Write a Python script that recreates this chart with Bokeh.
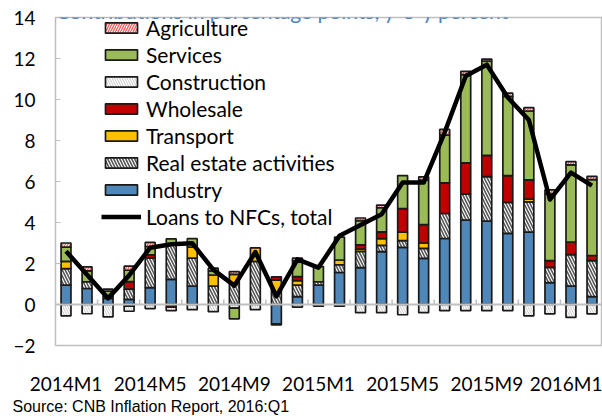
from bokeh.plotting import figure
from bokeh.models import ColumnDataSource, FixedTicker, Span, Label, Legend, LegendItem, Range1d, Title
from bokeh.embed import file_html
from bokeh.resources import INLINE

months = ["2014M1", "2014M2", "2014M3", "2014M4", "2014M5", "2014M6", "2014M7", "2014M8",
          "2014M9", "2014M10", "2014M11", "2014M12", "2015M1", "2015M2", "2015M3", "2015M4",
          "2015M5", "2015M6", "2015M7", "2015M8", "2015M9", "2015M10", "2015M11", "2015M12",
          "2016M1", "2016M2"]
tick_months = ["2014M1", "2014M5", "2014M9", "2015M1", "2015M5", "2015M9", "2016M1"]
y_ticks = [-2, 0, 2, 4, 6, 8, 10, 12, 14]

industry = [0.95, 0.78, 0.3, 0.25, 0.82, 1.23, 0.9, 0.0, 0.0, 0.0, -0.94, 0.38, 0.95,
            1.56, 1.8, 2.58, 2.79, 2.25, 3.22, 4.12, 4.07, 3.47, 3.53, 1.07, 0.9, 0.38]
real_estate = [0.8, 0.33, 0.1, 0.5, 1.44, 1.69, 1.36, 0.9, 1.03, 2.1, 0.62, 0.57, 0.16,
               0.38, 0.79, 0.3, 0.33, 0.49, 1.22, 1.26, 2.17, 1.51, 1.48, 0.74, 1.53, 1.76]
transport = [0.35, 0.0, 0.0, -0.08, 0.0, 0.0, 0.54, 0.54, 0.44, 0.66, 0.57, 0.21, 0.0,
             0.23, 0.11, 0.33, 0.41, 0.26, 0.0, 0.0, 0.0, 0.0, 0.13, 0.0, 0.0, 0.0]
wholesale = [0.0, 0.0, 0.0, 0.37, 0.16, -0.13, 0.0, 0.0, 0.0, 0.0, 0.16, 0.2, 0.0,
             0.0, 0.21, 0.33, 1.15, 0.9, 1.49, 1.53, 1.03, 1.31, 0.94, 0.33, 0.62, 0.25]
construction = [-0.55, -0.45, -0.6, -0.25, -0.2, -0.17, -0.25, -0.35, -0.18, -0.25, -0.06, -0.13, -0.08,
                -0.08, -0.4, -0.4, -0.5, -0.4, -0.3, -0.3, -0.3, -0.3, -0.55, -0.46, -0.63, -0.46]
services = [0.7, 0.53, 0.25, 0.55, 0.41, 0.28, 0.41, 0.2, -0.52, 0.0, 0.0, 0.77, 0.74,
            1.12, 1.18, 1.18, 1.61, 2.17, 2.33, 4.3, 4.6, 3.86, 3.36, 3.25, 3.76, 3.7]
agriculture = [0.2, 0.2, 0.1, 0.2, 0.2, 0.0, 0.0, 0.13, 0.13, 0.0, 0.0, 0.13, 0.0,
               0.0, 0.13, 0.13, 0.0, 0.16, 0.28, 0.16, 0.1, 0.16, 0.16, 0.2, 0.16, 0.16]
loans_total = [2.6, 1.45, 0.3, 1.42, 2.77, 2.94, 2.99, 1.7, 0.92, 2.56, 0.4, 2.2, 1.8,
               3.35, 3.88, 4.4, 5.95, 5.95, 8.4, 11.15, 11.7, 10.1, 9.0, 5.12, 6.43, 5.8]

FONT = "Lato"
TOP, BOTTOM = 17, 71
H = 416
Y_MIN, Y_MAX = -2, 14

p = figure(width=602, height=H, output_backend="svg", toolbar_location=None,
           x_range=Range1d(-0.5, 25.5), y_range=Range1d(Y_MIN, Y_MAX),
           min_border_left=55, min_border_right=0, min_border_top=TOP, min_border_bottom=BOTTOM)
p.background_fill_color = "white"
p.border_fill_color = "white"
p.outline_line_color = "#BFBFBF"
p.outline_line_width = 1.5
p.grid.visible = False

p.xaxis.ticker = FixedTicker(ticks=[months.index(m) for m in tick_months])
p.xaxis.major_label_overrides = {months.index(m): m for m in tick_months}
p.xaxis.axis_line_color = None
p.xaxis.major_tick_line_color = None
p.xaxis.minor_tick_line_color = None
p.xaxis.major_label_standoff = 20
p.xaxis.major_label_text_font = FONT
p.xaxis.major_label_text_font_size = "19px"
p.xaxis.major_label_text_color = "black"

p.yaxis.ticker = FixedTicker(ticks=y_ticks)
p.yaxis.axis_line_color = "#BFBFBF"
p.yaxis.major_tick_line_color = "#BFBFBF"
p.yaxis.major_tick_in = 5
p.yaxis.major_tick_out = 0
p.yaxis.minor_tick_line_color = None
p.yaxis.major_label_standoff = 20
p.yaxis.major_label_text_font = FONT
p.yaxis.major_label_text_font_size = "19px"
p.yaxis.major_label_text_color = "black"

n = len(months)
xs = list(range(n))
styles = [
    ("Industry", industry, dict(fill_color="#4F87B8")),
    ("Real estate activities", real_estate, dict(fill_color="white", hatch_pattern="\\", hatch_color="#555555",
                                                 hatch_scale=6, hatch_weight=1.6)),
    ("Transport", transport, dict(fill_color="#FFC000")),
    ("Wholesale", wholesale, dict(fill_color="#C00000")),
    ("Construction", construction, dict(fill_color="white", hatch_pattern="\\", hatch_color="#C8C8C8",
                                        hatch_scale=5, hatch_weight=1.0)),
    ("Services", services, dict(fill_color="#9BBB59")),
    ("Agriculture", agriculture, dict(fill_color="white", hatch_pattern="/", hatch_color="#F06060",
                                      hatch_scale=5, hatch_weight=1.4)),
]

pos_base = [0.0] * n
neg_base = [0.0] * n
rends = {}
for name, vals, st in styles:
    bx, bt, bb = [], [], []
    for i, v in enumerate(vals):
        if v == 0:
            continue
        if v > 0:
            b = pos_base[i]; t = b + v; pos_base[i] = t
        else:
            b = neg_base[i]; t = b + v; neg_base[i] = t
        bx.append(i); bb.append(b); bt.append(t)
    src = ColumnDataSource(dict(x=bx, top=bt, bottom=bb))
    rends[name] = p.vbar(x="x", top="top", bottom="bottom", width=0.47, source=src,
                         line_color="#1A1A1A", line_width=1.7, **st)

zero = Span(location=0, dimension="width", line_color="#BFBFBF", line_width=2)
p.add_layout(zero)

mid_ticks = [i + 0.5 for i in xs if i % 2 == 1 and i + 1 < n]
p.segment(x0=mid_ticks, y0=[0] * len(mid_ticks), x1=mid_ticks, y1=[0.25] * len(mid_ticks),
          line_color="#BFBFBF", line_width=1.5)

line_r = p.line(xs, loans_total, line_color="black", line_width=4.5, line_join="round")

order = ["Agriculture", "Services", "Construction", "Wholesale", "Transport", "Real estate activities", "Industry"]
items = [LegendItem(label=nm, renderers=[rends[nm]]) for nm in order]
items.append(LegendItem(label="Loans to NFCs, total", renderers=[line_r]))
legend = Legend(items=items, location=(46, 116), margin=0, padding=0, spacing=2,
                glyph_width=40, glyph_height=13, label_height=20, label_standoff=5,
                background_fill_alpha=0, border_line_color=None,
                label_text_font=FONT, label_text_font_size="21px", label_text_color="black")
p.add_layout(legend)

title = Label(x=-0.5, y=Y_MAX, x_offset=-5, y_offset=7,
              text="(Contributions in percentage points, y-o-y percent",
              text_font=FONT, text_font_size="21px", text_color="#4F83BF", text_baseline="alphabetic")
p.add_layout(title)

source = Title(text="Source: CNB Inflation Report, 2016:Q1", align="left", offset=-43, standoff=-4,
               text_font="Liberation Sans", text_font_size="16px", text_font_style="normal",
               text_color="black")
p.add_layout(source, "below")

open("out.html", "w").write(file_html(p, INLINE))
